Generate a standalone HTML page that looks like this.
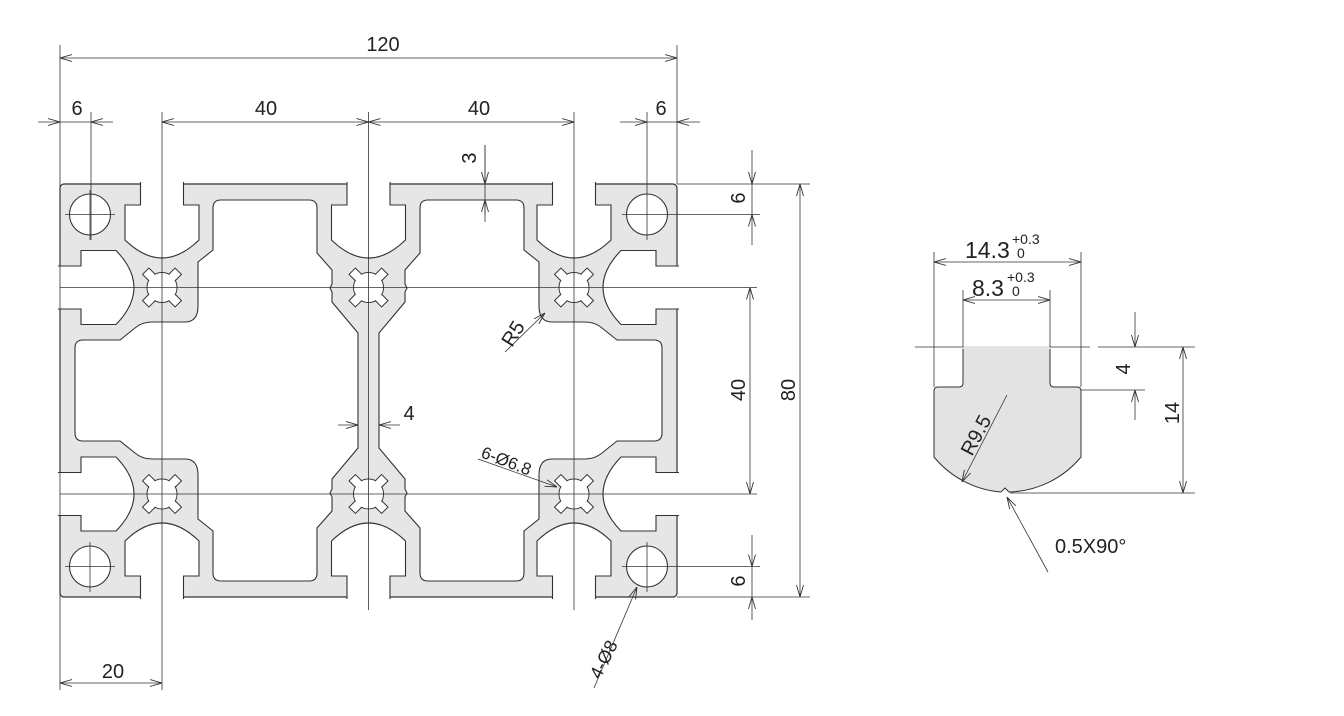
<!DOCTYPE html>
<html><head><meta charset="utf-8"><style>
html,body{margin:0;padding:0;background:#fff}
svg{display:block}
text{font-family:"Liberation Sans",Arial,sans-serif;fill:#222}
</style></head><body>
<svg width="1344" height="716" viewBox="0 0 1344 716" xmlns="http://www.w3.org/2000/svg">
<defs>
<marker id="a" viewBox="0 0 12 8" refX="12" refY="4" markerWidth="12" markerHeight="8" markerUnits="userSpaceOnUse" orient="auto-start-reverse">
<path d="M0,0.5 L12,4 L0,7.5" fill="none" stroke="#333" stroke-width="0.9"/>
</marker>
<g id="clover">
<g fill="#fff" stroke="#333" stroke-width="1">
<rect x="-4.5" y="-23" width="9" height="10" transform="rotate(45)"/>
<rect x="-4.5" y="-23" width="9" height="10" transform="rotate(135)"/>
<rect x="-4.5" y="-23" width="9" height="10" transform="rotate(225)"/>
<rect x="-4.5" y="-23" width="9" height="10" transform="rotate(315)"/>
<circle r="15"/>
</g>
<g fill="#fff">
<rect x="-3.8" y="-22.3" width="7.6" height="9" transform="rotate(45)"/>
<rect x="-3.8" y="-22.3" width="7.6" height="9" transform="rotate(135)"/>
<rect x="-3.8" y="-22.3" width="7.6" height="9" transform="rotate(225)"/>
<rect x="-3.8" y="-22.3" width="7.6" height="9" transform="rotate(315)"/>
<circle r="14.4"/>
</g>
</g>
<path id="tslot" d="M-21.5,-2 V21 H-37 V56 Q0,92 37,56 V21 H21.5 V-2"/>
</defs>

<rect x="60" y="184" width="617" height="413" rx="4" fill="#e6e6e6" stroke="#333" stroke-width="1.2"/>

<g fill="#fff" stroke="#333" stroke-width="1.1">
<use href="#tslot" x="162" y="184"/>
<use href="#tslot" x="368.5" y="184"/>
<use href="#tslot" x="574" y="184"/>
<use href="#tslot" transform="translate(162,597) scale(1,-1)"/>
<use href="#tslot" transform="translate(368.5,597) scale(1,-1)"/>
<use href="#tslot" transform="translate(574,597) scale(1,-1)"/>
<use href="#tslot" transform="translate(60,287.5) rotate(-90)"/>
<use href="#tslot" transform="translate(60,494) rotate(-90)"/>
<use href="#tslot" transform="translate(677,287.5) rotate(90)"/>
<use href="#tslot" transform="translate(677,494) rotate(90)"/>

<path d="M75,390 V348 Q75,340 83,340 H120 L135,328 Q142,322 152,322 H185 Q198,322 198,306 V262 L213,250 V208 Q213,200 221,200 H309 Q317,200 317,208 V253 L332,270 V284 L330,288 L332,292 V302 L358,333 V448 L332,479 V489 L330,493 L332,497 V511 L317,528 V573 Q317,581 309,581 H221 Q213,581 213,573 V531 L198,519 V475 Q198,459 185,459 H152 Q142,459 135,453 L120,441 H83 Q75,441 75,433 Z"/>
<path transform="translate(737,0) scale(-1,1)" d="M75,390 V348 Q75,340 83,340 H120 L135,328 Q142,322 152,322 H185 Q198,322 198,306 V262 L213,250 V208 Q213,200 221,200 H309 Q317,200 317,208 V253 L332,270 V284 L330,288 L332,292 V302 L358,333 V448 L332,479 V489 L330,493 L332,497 V511 L317,528 V573 Q317,581 309,581 H221 Q213,581 213,573 V531 L198,519 V475 Q198,459 185,459 H152 Q142,459 135,453 L120,441 H83 Q75,441 75,433 Z"/>
<circle cx="90" cy="214.5" r="20.5"/>
<circle cx="647" cy="214.5" r="20.5"/>
<circle cx="90" cy="566.5" r="20.5"/>
<circle cx="647" cy="566.5" r="20.5"/>
</g>
<use href="#clover" x="162" y="287.5"/>
<use href="#clover" x="368.5" y="287.5"/>
<use href="#clover" x="574" y="287.5"/>
<use href="#clover" x="162" y="494"/>
<use href="#clover" x="368.5" y="494"/>
<use href="#clover" x="574" y="494"/>

<g stroke="#333" stroke-width="0.8" fill="none">
<line x1="60" y1="45" x2="60" y2="690"/>
<line x1="677" y1="45" x2="677" y2="184"/>
<line x1="162" y1="112" x2="162" y2="690"/>
<line x1="368.5" y1="112" x2="368.5" y2="610"/>
<line x1="574" y1="112" x2="574" y2="610"/>
<line x1="91" y1="112" x2="91" y2="240"/>
<line x1="647" y1="112" x2="647" y2="240"/>
<line x1="485" y1="145" x2="485" y2="215"/>
<line x1="65" y1="214.5" x2="115" y2="214.5"/>
<line x1="622" y1="214.5" x2="760" y2="214.5"/>
<line x1="65" y1="566.5" x2="115" y2="566.5"/>
<line x1="622" y1="566.5" x2="760" y2="566.5"/>
<line x1="90" y1="190" x2="90" y2="240"/>
<line x1="90" y1="542" x2="90" y2="592"/>
<line x1="647" y1="542" x2="647" y2="592"/>
<line x1="60" y1="287.5" x2="757" y2="287.5"/>
<line x1="60" y1="494" x2="757" y2="494"/>
<line x1="677" y1="184" x2="810" y2="184"/>
<line x1="677" y1="597" x2="810" y2="597"/>
</g>

<g stroke="#333" stroke-width="0.8" fill="none">
<line x1="60" y1="58" x2="677" y2="58" marker-start="url(#a)" marker-end="url(#a)"/>
<line x1="38" y1="122" x2="60" y2="122" marker-end="url(#a)"/>
<line x1="113" y1="122" x2="91" y2="122" marker-end="url(#a)"/>
<line x1="60" y1="122" x2="91" y2="122"/>
<line x1="162" y1="122" x2="368.5" y2="122" marker-start="url(#a)" marker-end="url(#a)"/>
<line x1="368.5" y1="122" x2="574" y2="122" marker-start="url(#a)" marker-end="url(#a)"/>
<line x1="620" y1="122" x2="647" y2="122" marker-end="url(#a)"/>
<line x1="700" y1="122" x2="677" y2="122" marker-end="url(#a)"/>
<line x1="647" y1="122" x2="677" y2="122"/>
<line x1="485" y1="145" x2="485" y2="184" marker-end="url(#a)"/>
<line x1="485" y1="222" x2="485" y2="200" marker-end="url(#a)"/>
<line x1="752" y1="150" x2="752" y2="184" marker-end="url(#a)"/>
<line x1="752" y1="245" x2="752" y2="214.5" marker-end="url(#a)"/>
<line x1="752" y1="184" x2="752" y2="214.5"/>
<line x1="752" y1="535" x2="752" y2="566.5" marker-end="url(#a)"/>
<line x1="752" y1="620" x2="752" y2="597" marker-end="url(#a)"/>
<line x1="752" y1="566.5" x2="752" y2="597"/>
<line x1="750" y1="287.5" x2="750" y2="494" marker-start="url(#a)" marker-end="url(#a)"/>
<line x1="800" y1="184" x2="800" y2="597" marker-start="url(#a)" marker-end="url(#a)"/>
<line x1="60" y1="683" x2="162" y2="683" marker-start="url(#a)" marker-end="url(#a)"/>
<line x1="338" y1="425" x2="358" y2="425" marker-end="url(#a)"/>
<line x1="400" y1="425" x2="379" y2="425" marker-end="url(#a)"/>
<line x1="505" y1="352" x2="545" y2="313" marker-end="url(#a)"/>
<line x1="478" y1="459" x2="557" y2="487" marker-end="url(#a)"/>
<line x1="594" y1="688" x2="637" y2="587" marker-end="url(#a)"/>
</g>

<g font-size="20">
<text x="383" y="51" text-anchor="middle">120</text>
<text x="77" y="115" text-anchor="middle">6</text>
<text x="266" y="115" text-anchor="middle">40</text>
<text x="479" y="115" text-anchor="middle">40</text>
<text x="661" y="115" text-anchor="middle">6</text>
<text transform="translate(476,158) rotate(-90)" text-anchor="middle">3</text>
<text transform="translate(745,198) rotate(-90)" text-anchor="middle">6</text>
<text transform="translate(745,581) rotate(-90)" text-anchor="middle">6</text>
<text transform="translate(745,390) rotate(-90)" text-anchor="middle">40</text>
<text transform="translate(795,390) rotate(-90)" text-anchor="middle">80</text>
<text x="113" y="678" text-anchor="middle">20</text>
<text x="409" y="420" text-anchor="middle">4</text>
<text transform="translate(512,348) rotate(-58)">R5</text>
<text transform="translate(480,457) rotate(21)" font-size="17">6-Ø6.8</text>
<text transform="translate(600,680) rotate(-63)" font-size="18">4-Ø8</text>
</g>

<path d="M963,347 H1050 V383 Q1050,387 1054,387 H1077 Q1081,387 1081,391 V457 A97,97 0 0 1 1009,492 L1005,488 L1001,492 A97,97 0 0 1 934,457 V391 Q934,387 938,387 H959 Q963,387 963,383 Z" fill="#e3e3e3" stroke="#333" stroke-width="1"/>
<rect x="962" y="346" width="89" height="3" fill="#e3e3e3"/>
<g stroke="#333" stroke-width="0.8" fill="none">
<line x1="915" y1="347" x2="963" y2="347"/>
<line x1="1050" y1="347" x2="1090" y2="347"/>
<line x1="1098" y1="347" x2="1195" y2="347"/>
<line x1="934" y1="252" x2="934" y2="387"/>
<line x1="1081" y1="252" x2="1081" y2="387"/>
<line x1="963" y1="290" x2="963" y2="347"/>
<line x1="1050" y1="290" x2="1050" y2="347"/>
<line x1="1081" y1="390" x2="1145" y2="390"/>
<line x1="1010" y1="493" x2="1195" y2="493"/>
<line x1="934" y1="262" x2="1081" y2="262" marker-start="url(#a)" marker-end="url(#a)"/>
<line x1="963" y1="300" x2="1050" y2="300" marker-start="url(#a)" marker-end="url(#a)"/>
<line x1="1135" y1="312" x2="1135" y2="347" marker-end="url(#a)"/>
<line x1="1135" y1="420" x2="1135" y2="390" marker-end="url(#a)"/>
<line x1="1183" y1="347" x2="1183" y2="493" marker-start="url(#a)" marker-end="url(#a)"/>
<line x1="1007" y1="395" x2="962" y2="482" marker-end="url(#a)"/>
<line x1="1048" y1="572" x2="1007" y2="497" marker-end="url(#a)"/>
</g>
<g font-size="20">
<text x="965" y="258" font-size="23">14.3</text>
<text x="1012" y="244" font-size="14">+0.3</text>
<text x="1017" y="258" font-size="14">0</text>
<text x="972" y="296" font-size="23">8.3</text>
<text x="1007" y="282" font-size="14">+0.3</text>
<text x="1012" y="296" font-size="14">0</text>
<text transform="translate(1130,369) rotate(-90)" text-anchor="middle">4</text>
<text transform="translate(1179,413) rotate(-90)" text-anchor="middle">14</text>
<text transform="translate(972,457) rotate(-62)">R9.5</text>
<text x="1055" y="553">0.5X90°</text>
</g>
</svg>
</body></html>
